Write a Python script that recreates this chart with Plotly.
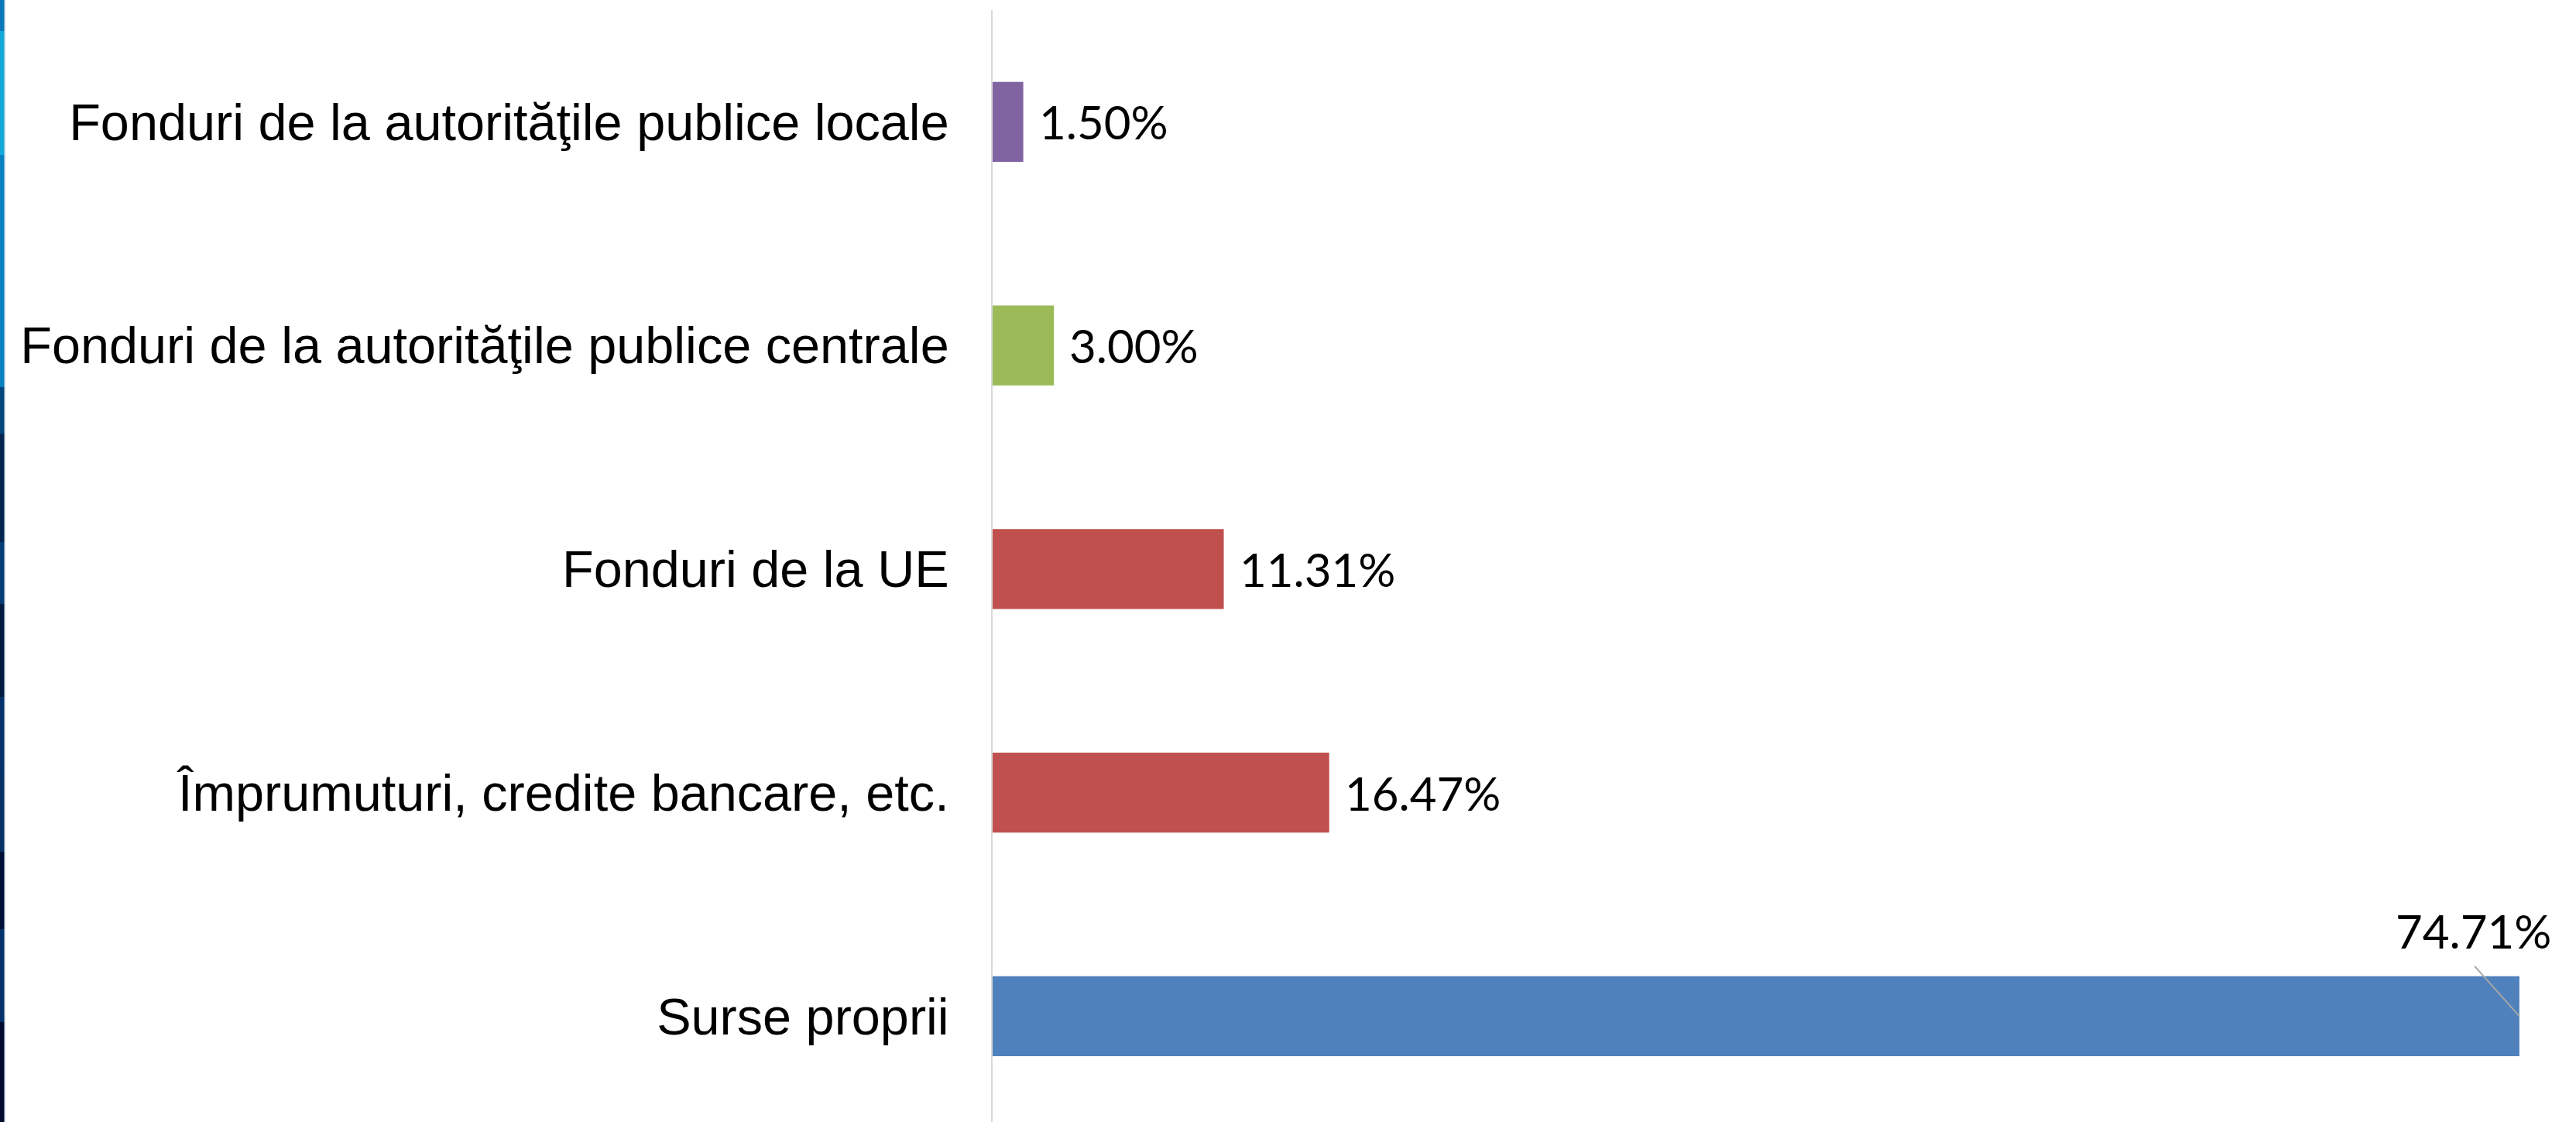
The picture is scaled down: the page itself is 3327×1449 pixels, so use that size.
import plotly.graph_objects as go

# ---- data (top to bottom as shown) ----
categories = [
    "Fonduri de la autorităţile publice locale",
    "Fonduri de la autorităţile publice centrale",
    "Fonduri de la UE",
    "Împrumuturi, credite bancare, etc.",
    "Surse proprii",
]
values = [1.50, 3.00, 11.31, 16.47, 74.71]
labels = ["1.50%", "3.00%", "11.31%", "16.47%", "74.71%"]
colors = ["#8064A2", "#9BBB59", "#C0504D", "#C0504D", "#4F81BD"]

W, H = 3327, 1449
ML, MR, MT, MB = 1282, 0, 13, 0

fig = go.Figure()
fig.add_trace(go.Bar(
    x=values, y=categories, orientation="h",
    marker=dict(color=colors, line=dict(width=0)),
    hoverinfo="skip",
))

label_font = dict(family="Lato, Open Sans, sans-serif", size=60, color="#000000")
annotations = []
for i, (cat, v, lab) in enumerate(zip(categories, values, labels)):
    if i == len(values) - 1:
        # label placed above the bar end with a leader line
        annotations.append(dict(
            x=v, y=cat, xref="x", yref="y", text=lab, font=label_font,
            showarrow=False, xanchor="center", yanchor="middle",
            xshift=-59, yshift=110,
        ))
        annotations.append(dict(
            x=v, y=cat, xref="x", yref="y", text="",
            showarrow=True, arrowhead=0, arrowwidth=2, arrowcolor="#A6A6A6",
            ax=-59, ay=-66, standoff=0, startstandoff=0,
        ))
    else:
        annotations.append(dict(
            x=v, y=cat, xref="x", yref="y", text=lab, font=label_font,
            showarrow=False, xanchor="left", yanchor="middle", xshift=18,
        ))

# decorative left strip (gradient approximation)
strip = [
    (0, 40, "#0a78b8"), (40, 200, "#12a9d8"), (200, 500, "#0a82c2"),
    (500, 560, "#05467f"), (560, 700, "#02244f"), (700, 780, "#063c74"),
    (780, 900, "#011a40"), (900, 1000, "#03336a"), (1000, 1100, "#062f63"),
    (1100, 1200, "#010f38"), (1200, 1320, "#03326a"), (1320, 1449, "#010c30"),
]
pw = W - ML - MR
ph = H - MT - MB
def px2paper_x(p):
    return (p - ML) / pw
def px2paper_y(p):
    return 1 - (p - MT) / ph

shapes = []
for y0, y1, c in strip:
    shapes.append(dict(type="rect", xref="paper", yref="paper",
                       x0=px2paper_x(0), x1=px2paper_x(5.7),
                       y0=px2paper_y(y1), y1=px2paper_y(y0),
                       fillcolor=c, line=dict(width=0), layer="above"))
shapes.append(dict(type="rect", xref="paper", yref="paper",
                   x0=px2paper_x(5.7), x1=px2paper_x(7),
                   y0=px2paper_y(H), y1=px2paper_y(0),
                   fillcolor="#c9d3dc", line=dict(width=0), layer="above"))

fig.update_layout(
    width=W, height=H,
    margin=dict(l=ML, r=MR, t=MT, b=MB, pad=0),
    paper_bgcolor="white", plot_bgcolor="white",
    showlegend=False, bargap=0.643,
    annotations=annotations, shapes=shapes,
    xaxis=dict(range=[0, 77.48], showgrid=False, zeroline=False,
               showticklabels=False, showline=False, ticks=""),
    yaxis=dict(range=[4.473, -0.5], showgrid=False, zeroline=False,
               showline=True, linecolor="#D9D9D9", linewidth=2, ticks="",
               ticklabelstandoff=41,
               tickfont=dict(family="Liberation Sans, Arial, sans-serif",
                             size=66.6, color="#000000")),
)

fig.write_html(
    "out.html",
    config={"displayModeBar": False},
    post_script="document.body.style.margin='0';document.body.style.overflow='hidden';",
)
